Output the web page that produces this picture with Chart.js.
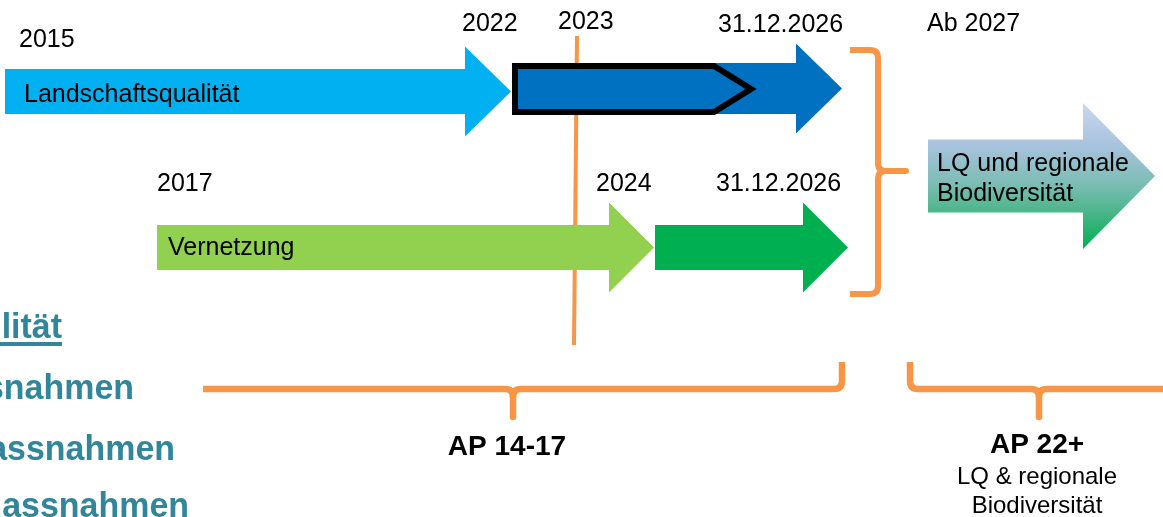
<!DOCTYPE html>
<html>
<head>
<meta charset="utf-8">
<script src="https://cdn.jsdelivr.net/npm/chart.js@4.4.1/dist/chart.umd.min.js"></script>
<style>
html,body{margin:0;padding:0;background:#ffffff;overflow:hidden;}
#wrap{width:1163px;height:517px;position:relative;}
canvas{display:block;}
</style>
</head>
<body>
<div id="wrap"><canvas id="c" width="1163" height="517"></canvas></div>
<script>
// ---------- data (timeline units on x, row units on y) ----------
const segNames   = ['Landschaftsqualität', 'LQ bis 31.12.2026', 'LQ 2022-2023+', 'Vernetzung', 'Vernetzung bis 31.12.2026', 'LQ und regionale Biodiversität'];
const segFrom    = [5,   512,  515, 157,  655,  928];
const segHeadAt  = [465, 796,  714, 609,  803,  1083];
const segTo      = [511, 842,  751, 654,  848,  1155];
const segRow     = [91.5, 88.5, 89, 247.5, 247.5, 176];
const segBody    = [45,  51,   46,  45,   45,   73];
const segHead    = [90,  90,   46,  90,   90,   146];
const segFill    = ['#00B0F0', '#0070C0', '#0070C0', '#92D050', '#00B050', 'gradient'];
const segOutline = [0, 0, 6, 0, 0, 0];

const segTextLines = [['Landschaftsqualität'], [], [], ['Vernetzung'], [], ['LQ und regionale', 'Biodiversität']];
const segTextX     = [24, 0, 0, 168, 0, 937];
const segTextY     = [102, 0, 0, 255, 0, 171];

const dateLabels = ['2015', '2022', '2023', '31.12.2026', 'Ab 2027', '2017', '2024', '31.12.2026'];
const dateX      = [19, 462, 558, 718, 927, 157, 596, 716];
const dateY      = [47, 31, 29, 32, 31, 191, 191, 191];

// "today" marker line (2023)
const markerX = [577, 574];
const markerY = [36, 345];

// bottom period braces
const periodLabels = ['AP 14-17', 'AP 22+'];
const periodFrom   = [203, 910];
const periodTo     = [842, 1163];
const periodNotch  = [513, 1039];
const periodNotes  = [[], ['LQ & regionale', 'Biodiversität']];
const periodRow    = 389;

// right brace grouping both programmes
const groupBraceX = 878, groupBraceTop = 50, groupBraceBottom = 294, groupBraceMid = 171, groupBraceTip = 908, groupBraceEnd = 850;

// cut-off heading list at the left
const sideText  = ['lität', 'snahmen', 'assnahmen', 'assnahmen'];
const sideRight = [62, 134, 175, 189];
const sideBase  = [338, 399, 460, 517];

// ---------- drawing ----------
const ORANGE = '#F79646';
const TEAL = '#31869B';
const FONT = '"Liberation Sans", Arial, Helvetica, sans-serif';

const diagramPlugin = {
  id: 'diagram',
  afterDatasetsDraw(chart) {
    const ctx = chart.ctx;
    const X = v => chart.scales.x.getPixelForValue(v);
    const Y = v => chart.scales.y.getPixelForValue(v);
    ctx.save();

    // arrows
    for (let i = 0; i < segFrom.length; i++) {
      const x0 = X(segFrom[i]), xh = X(segHeadAt[i]), x1 = X(segTo[i]);
      const yc = Y(segRow[i]);
      const bt = Y(segRow[i] - segBody[i] / 2), bb = Y(segRow[i] + segBody[i] / 2);
      const ht = Y(segRow[i] - segHead[i] / 2), hb = Y(segRow[i] + segHead[i] / 2);
      ctx.beginPath();
      ctx.moveTo(x0, bt);
      ctx.lineTo(xh, bt);
      ctx.lineTo(xh, ht);
      ctx.lineTo(x1, yc);
      ctx.lineTo(xh, hb);
      ctx.lineTo(xh, bb);
      ctx.lineTo(x0, bb);
      ctx.closePath();
      if (segFill[i] === 'gradient') {
        const g = ctx.createLinearGradient(0, ht, 0, hb);
        g.addColorStop(0, '#C8D8EE');
        g.addColorStop(0.28, '#A9C3DF');
        g.addColorStop(0.55, '#7DBDB5');
        g.addColorStop(0.8, '#3CB47E');
        g.addColorStop(1, '#00B050');
        ctx.fillStyle = g;
      } else {
        ctx.fillStyle = segFill[i];
      }
      ctx.fill();
      if (segOutline[i] > 0) {
        ctx.lineWidth = segOutline[i];
        ctx.lineJoin = 'miter';
        ctx.strokeStyle = '#000000';
        ctx.stroke();
      }
    }

    // arrow texts
    ctx.fillStyle = '#000000';
    ctx.font = '25px ' + FONT;
    ctx.textAlign = 'left';
    ctx.textBaseline = 'alphabetic';
    for (let i = 0; i < segTextLines.length; i++) {
      segTextLines[i].forEach((t, k) => ctx.fillText(t, X(segTextX[i]), Y(segTextY[i] + k * 30)));
    }

    // date labels
    for (let i = 0; i < dateLabels.length; i++) {
      ctx.fillText(dateLabels[i], X(dateX[i]), Y(dateY[i]));
    }

    // braces
    ctx.strokeStyle = ORANGE;
    ctx.lineJoin = 'round';
    const r = 8;
    // right grouping brace
    ctx.lineWidth = 6;
    ctx.lineCap = 'butt';
    ctx.beginPath();
    ctx.moveTo(X(groupBraceEnd), Y(groupBraceTop));
    ctx.lineTo(X(groupBraceX - r), Y(groupBraceTop));
    ctx.quadraticCurveTo(X(groupBraceX), Y(groupBraceTop), X(groupBraceX), Y(groupBraceTop + r));
    ctx.lineTo(X(groupBraceX), Y(groupBraceMid - r));
    ctx.quadraticCurveTo(X(groupBraceX), Y(groupBraceMid), X(groupBraceX + r), Y(groupBraceMid));
    ctx.moveTo(X(groupBraceX + r), Y(groupBraceMid));
    ctx.quadraticCurveTo(X(groupBraceX), Y(groupBraceMid), X(groupBraceX), Y(groupBraceMid + r));
    ctx.lineTo(X(groupBraceX), Y(groupBraceBottom - r));
    ctx.quadraticCurveTo(X(groupBraceX), Y(groupBraceBottom), X(groupBraceX - r), Y(groupBraceBottom));
    ctx.lineTo(X(groupBraceEnd), Y(groupBraceBottom));
    ctx.stroke();
    ctx.lineCap = 'round';
    ctx.beginPath();
    ctx.moveTo(X(groupBraceX + r), Y(groupBraceMid));
    ctx.lineTo(X(groupBraceTip - 2), Y(groupBraceMid));
    ctx.stroke();

    // bottom period braces
    ctx.lineWidth = 6.5;
    for (let i = 0; i < periodFrom.length; i++) {
      const yy = periodRow, top = 362, notchBottom = 417;
      ctx.lineCap = 'butt';
      ctx.beginPath();
      if (i === 0) {
        ctx.moveTo(X(periodFrom[i]), Y(yy));
      } else {
        ctx.moveTo(X(periodFrom[i]), Y(top));
        ctx.lineTo(X(periodFrom[i]), Y(yy - r));
        ctx.quadraticCurveTo(X(periodFrom[i]), Y(yy), X(periodFrom[i] + r), Y(yy));
      }
      ctx.lineTo(X(periodNotch[i] - r), Y(yy));
      ctx.quadraticCurveTo(X(periodNotch[i]), Y(yy), X(periodNotch[i]), Y(yy + r));
      ctx.moveTo(X(periodNotch[i]), Y(yy + r));
      ctx.quadraticCurveTo(X(periodNotch[i]), Y(yy), X(periodNotch[i] + r), Y(yy));
      if (i === 0) {
        ctx.lineTo(X(periodTo[i] - r), Y(yy));
        ctx.quadraticCurveTo(X(periodTo[i]), Y(yy), X(periodTo[i]), Y(yy - r));
        ctx.lineTo(X(periodTo[i]), Y(top));
      } else {
        ctx.lineTo(X(periodTo[i] + 5), Y(yy));
      }
      ctx.stroke();
      ctx.lineCap = 'round';
      ctx.beginPath();
      ctx.moveTo(X(periodNotch[i]), Y(yy + r));
      ctx.lineTo(X(periodNotch[i]), Y(notchBottom));
      ctx.stroke();
    }

    // period texts
    ctx.fillStyle = '#000000';
    ctx.textAlign = 'center';
    ctx.font = 'bold 28px ' + FONT;
    ctx.fillText(periodLabels[0], X(periodNotch[0] - 6), Y(455));
    ctx.fillText(periodLabels[1], X(periodNotch[1] - 2), Y(453));
    ctx.font = '24px ' + FONT;
    periodNotes.forEach((lines, i) => {
      lines.forEach((t, k) => ctx.fillText(t, X(periodNotch[i] - 2), Y(484 + k * 29)));
    });

    // left teal list (cut off)
    ctx.fillStyle = TEAL;
    ctx.font = 'bold 35px ' + FONT;
    ctx.textAlign = 'right';
    for (let i = 0; i < sideText.length; i++) {
      ctx.save();
      ctx.translate(X(sideRight[i]), Y(sideBase[i]));
      ctx.scale(0.97, 1);
      ctx.fillText(sideText[i], 0, 0);
      ctx.restore();
    }
    // underline of the first entry
    ctx.fillRect(X(0), Y(342), X(sideRight[0]) - X(0), 4);

    ctx.restore();
  }
};

const chart = new Chart(document.getElementById('c').getContext('2d'), {
  type: 'scatter',
  data: {
    datasets: [{
      label: '2023',
      data: markerX.map((x, i) => ({ x: x, y: markerY[i] })),
      showLine: true,
      borderColor: ORANGE,
      borderWidth: 4,
      pointRadius: 0,
      fill: false
    }]
  },
  options: {
    responsive: false,
    animation: false,
    events: [],
    layout: { padding: 0 },
    plugins: { legend: { display: false }, tooltip: { enabled: false } },
    scales: {
      x: { type: 'linear', min: 0, max: 1163, display: false },
      y: { type: 'linear', min: 0, max: 517, reverse: true, display: false }
    }
  },
  plugins: [diagramPlugin]
});
</script>
</body>
</html>
